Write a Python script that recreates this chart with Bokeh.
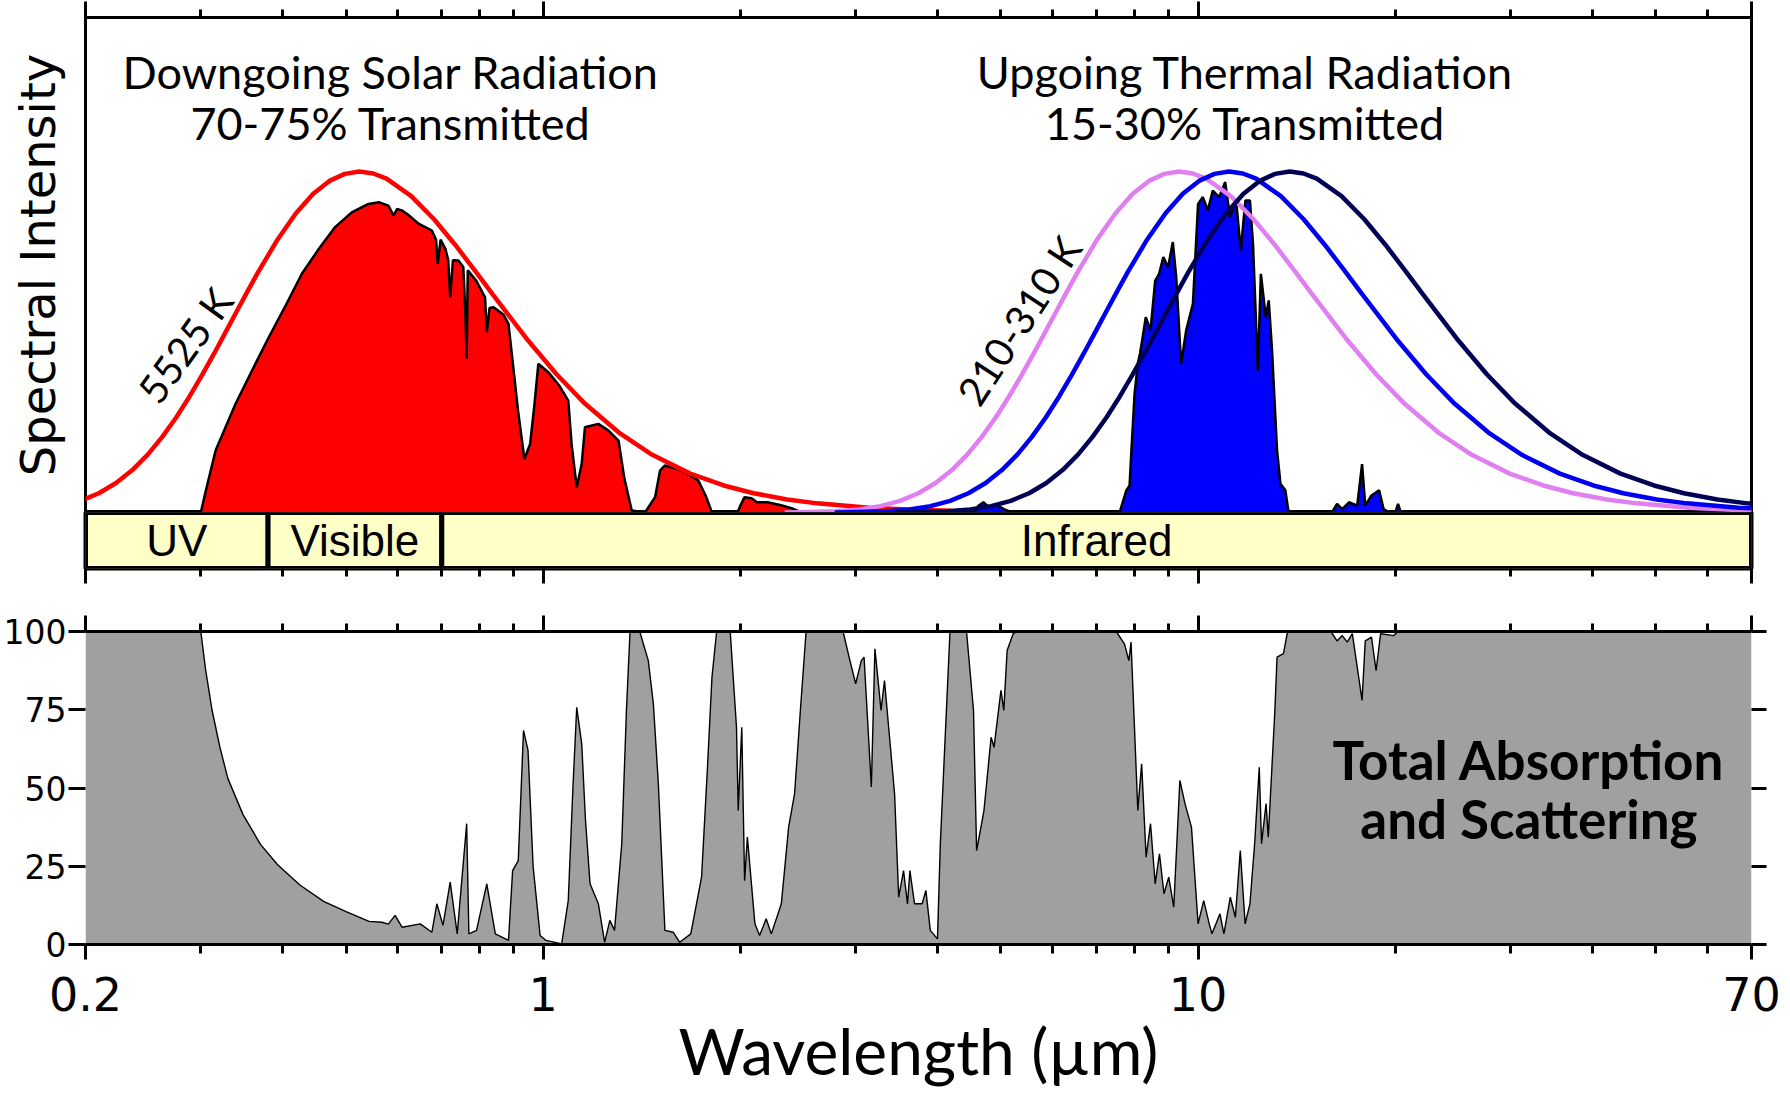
import math
from bokeh.plotting import figure
from bokeh.layouts import column
from bokeh.models import (Range1d, FixedTicker, LogAxis, LinearAxis,
                          CustomJSTickFormatter)
from bokeh.core.properties import value
from bokeh.embed import file_html
from bokeh.resources import INLINE

# ---------------- data ----------------
x_major_ticks = [0.2, 1, 10, 70]
x_minor_ticks = [0.3, 0.4, 0.5, 0.6, 0.7, 0.8, 0.9, 2, 3, 4, 5, 6, 7, 8, 9,
                 20, 30, 40, 50, 60]
y_abs_ticks = [0, 25, 50, 75, 100]

# common blackbody shape: wavelength / peak wavelength  ->  intensity / peak
planck_ratio = [0.25, 0.3, 0.325, 0.35, 0.375, 0.4, 0.425, 0.45, 0.475, 0.5, 0.525,
                0.55, 0.575, 0.6, 0.625, 0.65, 0.675, 0.7, 0.75, 0.8, 0.85, 0.9,
                0.95, 1.0, 1.05, 1.1, 1.2, 1.3, 1.4, 1.5, 1.6, 1.8, 2.0, 2.2, 2.5,
                2.8, 3.2, 3.6, 4.0, 4.5, 5.0, 6.0, 7.0, 8.0]
planck_shape = [0.0003, 0.0038, 0.0091, 0.0187, 0.0341, 0.0565, 0.0866, 0.1245,
                0.1699, 0.2217, 0.2787, 0.3395, 0.4026, 0.4664, 0.5296, 0.5908,
                0.6493, 0.7041, 0.8007, 0.8778, 0.9348, 0.9724, 0.9931, 1.0,
                0.9942, 0.9789, 0.9277, 0.860, 0.7853, 0.7101, 0.638, 0.5097,
                0.4053, 0.3228, 0.2318, 0.1691, 0.1140, 0.0792, 0.0565, 0.0383,
                0.0268, 0.0142, 0.0082, 0.0051]
curve_names = ["5525 K", "310 K", "260 K", "210 K"]
curve_peak_um = [0.524, 9.35, 11.15, 13.8]

solar_wl = [0.300, 0.305, 0.316, 0.339, 0.36, 0.381, 0.405, 0.428, 0.455, 0.481,
            0.51, 0.541, 0.561, 0.58, 0.591, 0.598, 0.608, 0.625, 0.645, 0.676,
            0.686, 0.690, 0.697, 0.709, 0.716, 0.721, 0.728, 0.742, 0.755, 0.760,
            0.764, 0.767, 0.79, 0.815, 0.820, 0.828, 0.840, 0.87, 0.885, 0.900,
            0.915, 0.936, 0.955, 0.97, 0.983, 1.02, 1.06, 1.092, 1.105, 1.125,
            1.145, 1.158, 1.214, 1.258, 1.303, 1.33, 1.365, 1.43, 1.482, 1.508,
            1.534, 1.58, 1.627, 1.67, 1.725, 1.77, 1.81, 1.98, 2.0, 2.03, 2.08,
            2.12, 2.2, 2.3, 2.4, 2.48]
solar_int = [0.0, 0.06, 0.182, 0.319, 0.42, 0.514, 0.61, 0.70, 0.775, 0.837,
             0.88, 0.905, 0.91, 0.90, 0.871, 0.89, 0.886, 0.87, 0.847, 0.827,
             0.80, 0.729, 0.80, 0.773, 0.74, 0.631, 0.74, 0.739, 0.72, 0.60,
             0.451, 0.710, 0.68, 0.631, 0.529, 0.60, 0.602, 0.58, 0.553, 0.426,
             0.30, 0.157, 0.201, 0.32, 0.436, 0.41, 0.37, 0.328, 0.20, 0.074,
             0.143, 0.25, 0.26, 0.24, 0.211, 0.10, 0.006, 0.0, 0.045, 0.123,
             0.138, 0.13, 0.123, 0.11, 0.094, 0.05, 0.0, 0.0, 0.02, 0.045, 0.042,
             0.03, 0.03, 0.022, 0.012, 0.0]

thermal_wl = [4.55, 4.62, 4.7, 4.8, 4.9, 5.05, 5.2, 7.59, 7.7, 7.77, 7.86, 7.90,
              8.0, 8.09, 8.16, 8.23, 8.32, 8.46, 8.60, 8.72, 8.85, 9.0, 9.15, 9.26,
              9.42, 9.59, 9.82, 10.0, 10.17, 10.35, 10.53, 10.77, 11.0, 11.19,
              11.43, 11.62, 11.81, 12.0, 12.13, 12.34, 12.47, 12.69, 12.82, 12.97,
              13.2, 13.36, 13.59, 13.75, 16.0, 16.3, 16.6, 17.0, 17.5, 17.8, 18.0,
              18.4, 18.9, 19.2, 19.6, 20.0, 20.2, 20.4]
thermal_int = [0.0, 0.02, 0.03, 0.015, 0.025, 0.01, 0.0, 0.0, 0.04, 0.065, 0.079,
               0.162, 0.35, 0.436, 0.47, 0.514, 0.573, 0.534, 0.680, 0.70, 0.749,
               0.719, 0.793, 0.690, 0.436, 0.534, 0.612, 0.905, 0.925, 0.886,
               0.944, 0.925, 0.969, 0.866, 0.915, 0.768, 0.915, 0.915, 0.787,
               0.416, 0.700, 0.573, 0.622, 0.475, 0.182, 0.084, 0.065, 0.0, 0.0,
               0.025, 0.01, 0.03, 0.02, 0.142, 0.02, 0.05, 0.065, 0.01, 0.0, 0.0,
               0.025, 0.0]

abs_wl = [0.2, 0.3, 0.305, 0.312, 0.321, 0.33, 0.348, 0.37, 0.393, 0.425, 0.462,
          0.5, 0.542, 0.567, 0.58, 0.594, 0.609, 0.649, 0.676, 0.688, 0.703, 0.721,
          0.739, 0.764, 0.770, 0.791, 0.820, 0.845, 0.885, 0.898, 0.916, 0.933,
          0.948, 0.965, 0.989, 1.01, 1.067, 1.092, 1.11, 1.125, 1.145, 1.16, 1.179,
          1.214, 1.241, 1.264, 1.285, 1.318, 1.34, 1.357, 1.404, 1.447, 1.473,
          1.499, 1.534, 1.58, 1.616, 1.68, 1.745, 1.78, 1.81, 1.84, 1.93, 1.973,
          1.985, 2.01, 2.03, 2.05, 2.105, 2.14, 2.19, 2.23, 2.31, 2.37, 2.42, 2.47,
          2.52, 2.87, 2.94, 3.0, 3.06, 3.09, 3.17, 3.21, 3.28, 3.32, 3.44, 3.49,
          3.55, 3.6, 3.63, 3.69, 3.79, 3.84, 3.9, 4.0, 4.04, 4.18, 4.43, 4.54,
          4.59, 4.71, 4.83, 4.88, 5.0, 5.05, 5.11, 5.22, 5.3, 7.5, 7.72, 7.84, 7.9,
          8.09, 8.2, 8.33, 8.46, 8.6, 8.73, 8.87, 9.02, 9.18, 9.38, 9.55, 9.77,
          10.0, 10.2, 10.4, 10.5, 10.8, 10.95, 11.2, 11.4, 11.6, 11.8, 12.0, 12.2,
          12.4, 12.5, 12.7, 12.8, 13.1, 13.2, 13.5, 13.7, 15.95, 16.3, 16.6, 16.9,
          17.2, 17.8, 18.0, 18.4, 18.7, 19.0, 19.9, 20.2, 70]
abs_pct = [100, 100, 88, 75, 62.8, 53, 41.5, 32, 25.5, 19, 13.8,
           10.5, 7.4, 7.1, 6.5, 9.3, 5.5, 6.6, 3.9, 13.0, 6.1, 19.9,
           3.4, 38.6, 3.4, 4.5, 19.4, 3.4, 1.3, 23.6, 26.8, 68.4,
           62.0, 25, 2.9, 1.3, 0.2, 14.0, 50, 75.8, 64.1, 40, 19.4,
           13.0, 0.7, 7.7, 4.5, 32.2, 75, 100, 100, 90.7, 76.9,
           51.3, 4.5, 3.9, 0.7, 3.4, 21.5, 55, 85.4, 100, 100, 69.4,
           42.8, 69.4, 20.4, 34.3, 6.6, 2.9, 8.2, 3.4, 13.0, 37.5, 48.1, 74.8,
           100, 100, 90.7, 83.3, 90.7, 91.8, 50.3, 94.5, 74.8, 84.3, 48.1, 15.1,
           23.6, 13.0, 23.6, 13.0, 13.0, 17.3, 4.5, 1.8, 32.2, 100, 100, 74.8,
           30, 42.8, 66.2, 63, 81.2, 74.8, 93.9, 99.3, 100, 100, 96, 90.7, 96.6,
           42.8, 57.7, 27.9, 38.6, 19.4, 29, 16.2, 21.5, 11.9, 52.4, 45, 37.5,
           6.6, 14, 6.6, 3.4, 9.8, 3.4, 15.1, 8.7, 30, 6.6, 13, 32.2,
           56.6, 32.2, 45, 34.3, 74.8, 91.8, 92.9, 100, 100, 97, 98.7, 96.6,
           99.3, 78, 97, 98.2, 87.5, 99.3, 98.7, 100, 100]

band_names = ["UV", "Visible", "Infrared"]
band_lo = [0.2, 0.38, 0.7]
band_hi = [0.38, 0.7, 70]

# ---------------- styling constants ----------------
W = 1790
LEFT, RIGHT = 83, 39
TICK_FONT = "DejaVu Sans"
TEXT_FONT = "Lato"
BAND_FONT = "Liberation Sans"
curve_colors = ["#ff0000", "#e07ff0", "#0000ee", "#000055"]

x_range = Range1d(0.2, 70)


def tick_axis(ax, major_out, minor_out, show_labels=False):
    ax.ticker = FixedTicker(ticks=x_major_ticks, minor_ticks=x_minor_ticks)
    ax.major_tick_in = 0
    ax.minor_tick_in = 0
    ax.major_tick_out = major_out
    ax.minor_tick_out = minor_out
    ax.major_tick_line_width = 3
    ax.minor_tick_line_width = 3
    ax.major_tick_line_color = "black"
    ax.minor_tick_line_color = "black"
    if not show_labels:
        ax.major_label_text_font_size = "0px"
        ax.major_label_text_color = None
        ax.major_label_standoff = 0


def clean(p):
    p.xgrid.visible = False
    p.ygrid.visible = False
    p.background_fill_color = "white"
    p.border_fill_color = "white"


# ---------------- top panel: spectra ----------------
p1 = figure(width=W, height=512, x_axis_type="log", x_range=x_range,
            y_range=Range1d(0, 1.4516), output_backend="svg", toolbar_location=None,
            min_border_left=LEFT, min_border_right=RIGHT, min_border_top=17,
            min_border_bottom=0, x_axis_location="above")
clean(p1)
p1.outline_line_color = "black"
p1.outline_line_width = 3
tick_axis(p1.xaxis[0], 16, 8)
p1.xaxis.axis_line_color = None
yax = p1.yaxis[0]
yax.ticker = FixedTicker(ticks=[])
yax.axis_line_color = None
yax.major_tick_line_color = None
yax.minor_tick_line_color = None
yax.major_label_text_font_size = "0px"
yax.major_label_standoff = 0
yax.axis_label = "Spectral Intensity"
yax.axis_label_text_font = TICK_FONT
yax.axis_label_text_font_size = "48px"
yax.axis_label_text_font_style = "normal"
yax.axis_label_text_color = "black"
yax.axis_label_standoff = 20

p1.varea(x=solar_wl, y1=0, y2=solar_int, fill_color="#ff0000")
p1.line(solar_wl, solar_int, line_color="black", line_width=2.5)
p1.line([r * curve_peak_um[0] for r in planck_ratio], planck_shape,
        line_color=curve_colors[0], line_width=4.5)
p1.varea(x=thermal_wl, y1=0, y2=thermal_int, fill_color="#0000ff")
p1.line(thermal_wl, thermal_int, line_color="black", line_width=2.5)
for peak, col in zip(curve_peak_um[1:], curve_colors[1:]):
    p1.line([r * peak for r in planck_ratio], planck_shape, line_color=col,
            line_width=4.5)

p1.text(x=[0.585, 0.585, 11.8, 11.8], y=[1.293, 1.141, 1.293, 1.141],
        text=["Downgoing Solar Radiation", "70-75% Transmitted",
              "Upgoing Thermal Radiation", "15-30% Transmitted"],
        text_font=value(TEXT_FONT), text_font_size="45px", text_align="center",
        text_baseline="middle", text_color="black")
p1.text(x=[0.284], y=[0.49], text=["5525 K"], angle=math.radians(54),
        text_font=value(TEXT_FONT), text_font_size="40px", text_align="center",
        text_baseline="middle", text_color="black")
p1.text(x=[5.33], y=[0.563], text=["210-310 K"], angle=math.radians(57),
        text_font=value(TEXT_FONT), text_font_size="40px", text_align="center",
        text_baseline="middle", text_color="black")

# ---------------- band bar ----------------
p2 = figure(width=W, height=88, x_axis_type="log", x_range=x_range,
            y_range=Range1d(0, 1), output_backend="svg", toolbar_location=None,
            min_border_left=LEFT, min_border_right=RIGHT, min_border_top=0,
            min_border_bottom=32, y_axis_location=None)
clean(p2)
p2.outline_line_color = "black"
p2.outline_line_width = 4
tick_axis(p2.xaxis[0], 15, 8)
p2.xaxis.axis_line_color = None
p2.quad(left=band_lo, right=band_hi, bottom=0, top=1, fill_color="#ffffc8",
        line_color="black", line_width=5)
band_mid = [math.sqrt(a * b) for a, b in zip(band_lo, band_hi)]
p2.text(x=band_mid, y=[0.5] * 3, text=band_names, text_font=value(BAND_FONT),
        text_font_size="44px", text_align="center", text_baseline="middle",
        text_color="black")

# ---------------- bottom panel: absorption ----------------
p3 = figure(width=W, height=495, x_axis_type="log", x_range=x_range,
            y_range=Range1d(0, 100), output_backend="svg", toolbar_location=None,
            min_border_left=LEFT, min_border_right=RIGHT, min_border_top=31,
            min_border_bottom=151)
clean(p3)
p3.outline_line_color = None
p3.varea(x=abs_wl, y1=0, y2=abs_pct, fill_color="#a0a0a0")
p3.line(abs_wl, abs_pct, line_color="black", line_width=1.4)

xb = p3.xaxis[0]
tick_axis(xb, 15, 9, show_labels=True)
xb.axis_line_color = "black"
xb.axis_line_width = 3
xb.formatter = CustomJSTickFormatter(code="return (Math.round(tick*10)/10).toString();")
xb.major_label_text_font = TICK_FONT
xb.major_label_text_font_size = "46px"
xb.major_label_text_color = "black"
xb.major_label_standoff = 17
xb.axis_label = "Wavelength (\u00b5m)"
xb.axis_label_text_font = TEXT_FONT
xb.axis_label_text_font_size = "64px"
xb.axis_label_text_font_style = "normal"
xb.axis_label_text_color = "black"
xb.axis_label_standoff = -2

xt = LogAxis()
tick_axis(xt, 16, 8)
xt.axis_line_color = "black"
xt.axis_line_width = 3
p3.add_layout(xt, "above")

yl = p3.yaxis[0]
yl.ticker = FixedTicker(ticks=y_abs_ticks, minor_ticks=[])
yl.axis_line_color = None
yl.major_tick_in = 0
yl.major_tick_out = 17
yl.major_tick_line_width = 3
yl.major_tick_line_color = "black"
yl.minor_tick_line_color = None
yl.major_label_text_font = TICK_FONT
yl.major_label_text_font_size = "33px"
yl.major_label_text_color = "black"
yl.major_label_standoff = 2

yr = LinearAxis(ticker=FixedTicker(ticks=y_abs_ticks, minor_ticks=[]))
yr.axis_line_color = None
yr.major_tick_in = 0
yr.major_tick_out = 15
yr.major_tick_line_width = 3
yr.major_tick_line_color = "black"
yr.minor_tick_line_color = None
yr.major_label_text_font_size = "0px"
yr.major_label_text_color = None
yr.major_label_standoff = 0
p3.add_layout(yr, "right")

p3.text(x=[32, 32], y=[59.1, 40.3], text=["Total Absorption", "and Scattering"],
        text_font=value(TEXT_FONT), text_font_size="53px", text_font_style="bold",
        text_align="center", text_baseline="middle", text_color="black")

layout = column(p1, p2, p3, spacing=0)
open("out.html", "w").write(file_html(layout, INLINE))
